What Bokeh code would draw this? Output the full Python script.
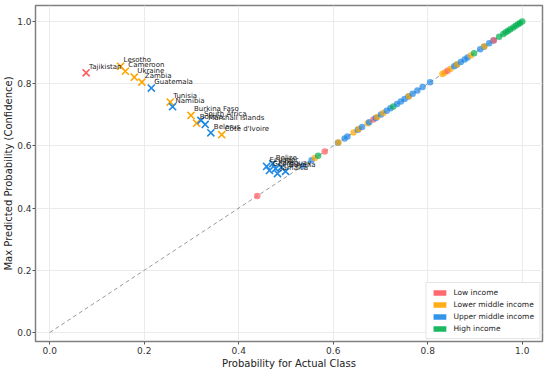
from bokeh.plotting import figure
from bokeh.models import ColumnDataSource, Range1d, FixedTicker, Legend, LegendItem, NumeralTickFormatter
from bokeh.core.properties import value
from bokeh.embed import file_html
from bokeh.resources import INLINE

# ---- data ----
groups = ["Low income", "Lower middle income", "Upper middle income", "High income"]
group_colors = ["#ff5a5f", "#ffa500", "#1e88e5", "#00b050"]

# correctly classified countries (prob for actual class == max prob)
correct_prob = [0.439, 0.536, 0.554, 0.561, 0.568, 0.582, 0.610, 0.611, 0.624, 0.630,
                0.643, 0.652, 0.654, 0.661, 0.673, 0.676, 0.685, 0.690, 0.693, 0.701,
                0.706, 0.713, 0.721, 0.727, 0.735, 0.743, 0.751, 0.759, 0.760, 0.768,
                0.778, 0.789, 0.805, 0.831, 0.836, 0.842, 0.848, 0.856, 0.861, 0.862,
                0.870, 0.878, 0.884, 0.891, 0.898, 0.911, 0.919, 0.920, 0.930, 0.939,
                0.940, 0.951, 0.960, 0.965, 0.970, 0.975, 0.981, 0.986, 0.991, 0.995, 1.000]
correct_group = ["Low income", "Upper middle income", "Upper middle income", "Lower middle income", "High income",
                 "Low income", "Upper middle income", "Lower middle income", "Upper middle income", "Upper middle income",
                 "Lower middle income", "Upper middle income", "Lower middle income", "Upper middle income", "Lower middle income",
                 "Upper middle income", "Low income", "Upper middle income", "Lower middle income", "Upper middle income",
                 "Lower middle income", "Upper middle income", "Upper middle income", "High income", "Upper middle income",
                 "Upper middle income", "Upper middle income", "Upper middle income", "Lower middle income", "Upper middle income",
                 "Upper middle income", "Upper middle income", "Upper middle income", "Lower middle income", "Lower middle income",
                 "Low income", "Lower middle income", "Upper middle income", "Upper middle income", "Lower middle income",
                 "Upper middle income", "Upper middle income", "Upper middle income", "Lower middle income", "High income",
                 "Upper middle income", "Upper middle income", "Lower middle income", "Upper middle income", "Upper middle income",
                 "Low income", "High income", "High income", "High income", "High income",
                 "High income", "High income", "High income", "High income", "High income", "High income"]

# misclassified countries
mis_country = ["Tajikistan", "Lesotho", "Cameroon", "Ukraine", "Zambia", "Guatemala",
               "Tunisia", "Namibia", "Burkina Faso", "Bolivia", "South Africa",
               "Marshall Islands", "Belarus", "Côte d'Ivoire",
               "Ecuador", "Belize", "Georgia", "Paraguay", "Jamaica", "Fiji", "Guyana"]
mis_actual = [0.077, 0.150, 0.160, 0.179, 0.195, 0.215, 0.255, 0.260, 0.299, 0.311,
              0.320, 0.329, 0.341, 0.364, 0.459, 0.472, 0.465, 0.478, 0.482, 0.490, 0.499]
mis_max = [0.835, 0.856, 0.840, 0.821, 0.805, 0.786, 0.741, 0.726, 0.698, 0.673,
           0.682, 0.669, 0.642, 0.636, 0.534, 0.543, 0.521, 0.527, 0.511, 0.531, 0.518]
mis_group = ["Low income", "Lower middle income", "Lower middle income", "Lower middle income",
             "Lower middle income", "Upper middle income", "Lower middle income", "Upper middle income",
             "Lower middle income", "Lower middle income", "Upper middle income", "Upper middle income",
             "Upper middle income", "Lower middle income",
             "Upper middle income", "Upper middle income", "Upper middle income", "Upper middle income",
             "Upper middle income", "Upper middle income", "Upper middle income"]

diag_x = [0.0, 1.0]
diag_y = [0.0, 1.0]
ticks = [0.0, 0.2, 0.4, 0.6, 0.8, 1.0]

cmap = dict(zip(groups, group_colors))

# ---- figure ----
p = figure(width=550, height=371, output_backend="svg", toolbar_location=None,
           x_range=Range1d(-0.0301, 1.0428), y_range=Range1d(-0.0289, 1.0514),
           min_border_left=33, min_border_right=8, min_border_top=5, min_border_bottom=30)

p.line(diag_x, diag_y, line_color="#999999", line_dash="4 3", line_width=1)

csrc = ColumnDataSource(dict(x=correct_prob, y=correct_prob,
                             c=[cmap[g] for g in correct_group]))
p.scatter("x", "y", source=csrc, size=6.5, fill_color="c", fill_alpha=0.7, line_alpha=0)

msrc = ColumnDataSource(dict(x=mis_actual, y=mis_max, c=[cmap[g] for g in mis_group],
                             t=mis_country))
p.scatter("x", "y", source=msrc, marker="x", size=10, line_color="c", line_width=1.6)
p.text("x", "y", text="t", source=msrc, x_offset=3, y_offset=-2,
       text_font=value("DejaVu Sans"), text_font_size="7px", text_color="#222222",
       text_baseline="bottom", text_align="left")

# legend (proxy rects placed far outside the visible range)
items = []
for g, c in zip(groups, group_colors):
    r = p.rect(x=[-5.0], y=[-5.0], width=0.01, height=0.01, fill_color=c, fill_alpha=0.9,
               line_alpha=0)
    items.append(LegendItem(label=g, renderers=[r]))
leg = Legend(items=items, location="bottom_right")
leg.label_text_font = "DejaVu Sans"
leg.label_text_font_size = "7.5px"
leg.label_text_color = "#222222"
leg.glyph_width = 16
leg.glyph_height = 7
leg.label_height = 8
leg.spacing = 3
leg.padding = 5
leg.margin = 2
leg.label_standoff = 6
leg.border_line_color = "#cccccc"
leg.border_line_width = 1
leg.background_fill_alpha = 0.9
p.add_layout(leg)

# axes styling
for ax in (p.xaxis, p.yaxis):
    ax.ticker = FixedTicker(ticks=ticks)
    ax.formatter = NumeralTickFormatter(format="0.0")
    ax.axis_line_color = None
    ax.major_tick_line_color = "#555555"
    ax.major_tick_out = 3
    ax.major_tick_in = 0
    ax.minor_tick_line_color = None
    ax.major_label_text_font = "DejaVu Sans"
    ax.major_label_text_font_size = "9px"
    ax.major_label_text_color = "#333333"
    ax.axis_label_text_font = "DejaVu Sans"
    ax.axis_label_text_font_size = "10px"
    ax.axis_label_text_font_style = "normal"
    ax.axis_label_text_color = "#222222"

p.xaxis.major_label_standoff = 2
p.xaxis.axis_label_standoff = 1
p.yaxis.major_label_standoff = 1
p.yaxis.axis_label_standoff = 0

p.xaxis.axis_label = "Probability for Actual Class"
p.yaxis.axis_label = "Max Predicted Probability (Confidence)"

p.xgrid.grid_line_color = "#ebebeb"
p.ygrid.grid_line_color = "#ebebeb"
p.outline_line_color = "#808080"
p.outline_line_width = 1.5

open("out.html", "w").write(file_html(p, INLINE))
